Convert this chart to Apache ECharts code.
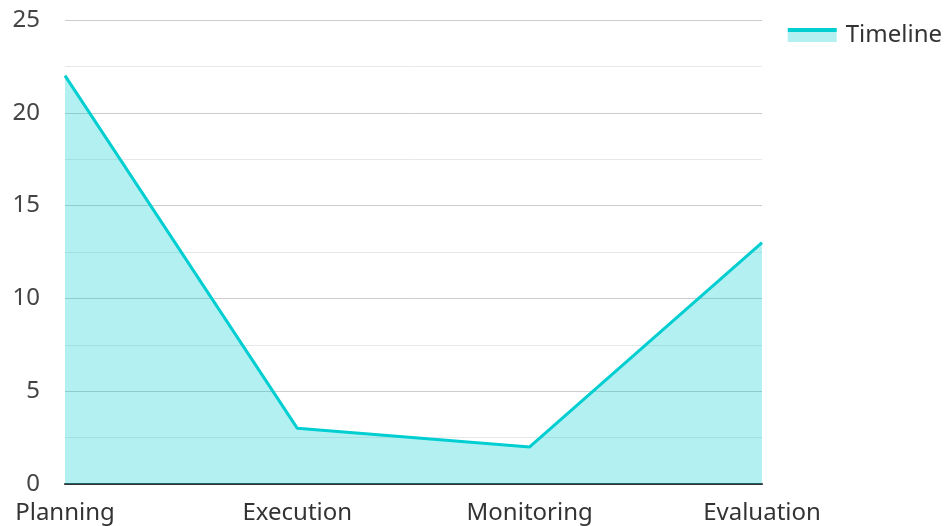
<!DOCTYPE html>
<html>
<head>
<meta charset="utf-8">
<script src="https://cdn.jsdelivr.net/npm/echarts@6/dist/echarts.min.js"></script>
<style>
html,body{margin:0;padding:0;background:#fff;}
#chart{width:947px;height:526px;}
</style>
</head>
<body>
<div id="chart"></div>
<script>
var categories = ['Planning', 'Execution', 'Monitoring', 'Evaluation'];
var timelineValues = [22, 3, 2, 13];

var lineColor = '#00CED1';
var areaColor = '#B2F0F1';

var myChart = echarts.init(document.getElementById('chart'));
var option = {
	animation: false,
	textStyle: {fontFamily: 'Noto Sans'},
	grid: {left: 65, right: 185, top: 20, bottom: 42},
	legend: {
		right: 0,
		top: 18,
		icon: 'rect',
		itemWidth: 49,
		itemHeight: 14,
		itemStyle: {
			// line strip on top, light area below
			color: {
				type: 'linear', x: 0, y: 0, x2: 0, y2: 1,
				colorStops: [
					{offset: 0, color: lineColor},
					{offset: 0.3, color: lineColor},
					{offset: 0.3, color: areaColor},
					{offset: 1, color: areaColor}
				]
			}
		},
		textStyle: {fontSize: 24, color: '#333', fontFamily: 'Noto Sans', padding: [0, 0, 0, 4]},
		data: ['Timeline']
	},
	xAxis: {
		type: 'category',
		boundaryGap: false,
		data: categories,
		axisLine: {lineStyle: {color: '#333', width: 2}},
		axisTick: {show: false},
		axisLabel: {fontSize: 24, color: '#333', margin: 17}
	},
	yAxis: {
		type: 'value',
		min: 0,
		max: 25,
		interval: 5,
		axisLine: {show: false},
		axisTick: {show: false},
		axisLabel: {fontSize: 24, color: '#444', margin: 25},
		splitLine: {lineStyle: {color: '#ccc', width: 1}},
		minorTick: {show: false, splitNumber: 2},
		minorSplitLine: {show: true, lineStyle: {color: '#e8e8e8', width: 1}}
	},
	series: [{
		name: 'Timeline',
		type: 'line',
		data: timelineValues,
		symbol: 'none',
		lineStyle: {color: lineColor, width: 3},
		itemStyle: {color: lineColor},
		areaStyle: {color: lineColor, opacity: 0.3}
	}]
};
myChart.setOption(option);
</script>
</body>
</html>
